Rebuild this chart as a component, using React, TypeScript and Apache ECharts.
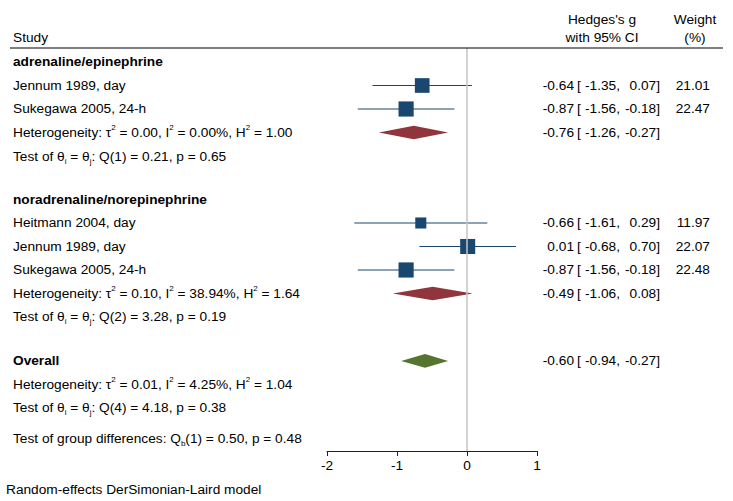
import React, { useEffect, useRef } from "react";
import * as echarts from "echarts";

// ---- data ----
const groupNames = ["adrenaline/epinephrine", "noradrenaline/norepinephrine"];
const studyNames = ["Jennum 1989, day", "Sukegawa 2005, 24-h", "Heitmann 2004, day", "Jennum 1989, day", "Sukegawa 2005, 24-h"];
const studyGroup = [0, 0, 1, 1, 1];
const studyEffect = [-0.64, -0.87, -0.66, 0.01, -0.87];
const studyLower = [-1.35, -1.56, -1.61, -0.68, -1.56];
const studyUpper = [0.07, -0.18, 0.29, 0.7, -0.18];
const studyWeight = [21.01, 22.47, 11.97, 22.07, 22.48];

const pooledEffect = [-0.76, -0.49];
const pooledLower = [-1.26, -1.06];
const pooledUpper = [-0.27, 0.08];
const groupTau2 = [0.0, 0.1];
const groupI2 = [0.0, 38.94];
const groupH2 = [1.0, 1.64];
const groupQdf = [1, 2];
const groupQ = [0.21, 3.28];
const groupP = [0.65, 0.19];

const overallEffect = [-0.6];
const overallLower = [-0.94];
const overallUpper = [-0.27];
const overallStats = { tau2: 0.01, i2: 4.25, h2: 1.04, qdf: 4, q: 4.18, p: 0.38 };
const groupDiff = { df: 1, qb: 0.5, p: 0.48 };

const xTicks = [-2, -1, 0, 1];

// ---- layout (row slots) ----
const blockStart = [0, 5.85];
const overallStart = 12.72;
const groupDiffPos = 16.02;
const Y_MIN = -0.5957;
const Y_MAX = 16.553;

const FONT = "'Liberation Sans', Arial, Helvetica, sans-serif";
const FS = 13.7;
const NAVY = "#1a476f";
const MAROON = "#90353b";
const GREEN = "#55752f";

const f2 = (v: number) => v.toFixed(2);

type Row = { pos: number; left: string; bold?: boolean; ci?: [number, number, number]; weight?: number };

function buildRows() {
  const rows: Row[] = [];
  const studyPos: number[] = [];
  const pooledPos: number[] = [];
  groupNames.forEach((g, gi) => {
    let p = blockStart[gi];
    rows.push({ pos: p, left: g, bold: true });
    studyNames.forEach((s, si) => {
      if (studyGroup[si] !== gi) return;
      p += 1;
      studyPos[si] = p;
      rows.push({ pos: p, left: s, ci: [studyEffect[si], studyLower[si], studyUpper[si]], weight: studyWeight[si] });
    });
    p += 1;
    pooledPos[gi] = p;
    rows.push({
      pos: p,
      left: `Heterogeneity: τ{sup|2} = ${f2(groupTau2[gi])}, I{sup|2} = ${f2(groupI2[gi])}%, H{sup|2} = ${f2(groupH2[gi])}`,
      ci: [pooledEffect[gi], pooledLower[gi], pooledUpper[gi]],
    });
    p += 1;
    rows.push({ pos: p, left: `Test of θ{sub|i} = θ{sub|j}: Q(${groupQdf[gi]}) = ${f2(groupQ[gi])}, p = ${f2(groupP[gi])}` });
  });
  rows.push({ pos: overallStart, left: "Overall", bold: true, ci: [overallEffect[0], overallLower[0], overallUpper[0]] });
  rows.push({
    pos: overallStart + 1,
    left: `Heterogeneity: τ{sup|2} = ${f2(overallStats.tau2)}, I{sup|2} = ${f2(overallStats.i2)}%, H{sup|2} = ${f2(overallStats.h2)}`,
  });
  rows.push({ pos: overallStart + 2, left: `Test of θ{sub|i} = θ{sub|j}: Q(${overallStats.qdf}) = ${f2(overallStats.q)}, p = ${f2(overallStats.p)}` });
  rows.push({ pos: groupDiffPos, left: `Test of group differences: Q{sub|b}(${groupDiff.df}) = ${f2(groupDiff.qb)}, p = ${f2(groupDiff.p)}` });
  return { rows, studyPos, pooledPos };
}

export default function App() {
  const ref = useRef<HTMLDivElement>(null);
  useEffect(() => {
    if (!ref.current) return;
    const chart = echarts.init(ref.current, undefined, { renderer: "svg" });
    const { rows, studyPos, pooledPos } = buildRows();

    const rich = {
      sup: { fontSize: 8, lineHeight: 6, verticalAlign: "top", fontFamily: FONT, fill: "#000", color: "#000" },
      sub: { fontSize: 8, lineHeight: 12, verticalAlign: "bottom", fontFamily: FONT, fill: "#000", color: "#000" },
    };

    const txt = (text: string, x: number, y: number, align: string, extra: any = {}) => ({
      type: "text",
      style: { text, x, y, align, verticalAlign: "middle", fontSize: FS, fontFamily: FONT, fill: "#000", ...extra },
    });

    const studyData = studyNames.map((_, i) => [studyEffect[i], studyLower[i], studyUpper[i], studyWeight[i], studyPos[i]]);
    const diamondData = [
      ...pooledEffect.map((e, i) => [e, pooledLower[i], pooledUpper[i], i, pooledPos[i]]),
      [overallEffect[0], overallLower[0], overallUpper[0], 2, overallStart],
    ];
    const diamondColors = [MAROON, MAROON, GREEN];

    const option: any = {
      animation: false,
      grid: { left: 327, right: 196, top: 48, bottom: 50, containLabel: false },
      xAxis: {
        type: "value",
        position: "bottom",
        min: xTicks[0],
        max: xTicks[xTicks.length - 1],
        interval: 1,
        axisLine: { show: true, onZero: false, lineStyle: { color: "#222", width: 1 } },
        axisTick: { show: true, length: 5, lineStyle: { color: "#222", width: 1 } },
        axisLabel: { color: "#000", fontSize: FS, fontFamily: FONT, margin: 7 },
        splitLine: { show: false },
      },
      yAxis: { type: "value", inverse: true, min: Y_MIN, max: Y_MAX, show: false, splitLine: { show: false } },
      graphic: [
        { type: "line", shape: { x1: 10, y1: 48, x2: 723, y2: 48 }, style: { stroke: "#000", lineWidth: 1.2 }, z: 10 },
        { type: "text", x: 13, y: 37, style: { text: "Study", fontSize: FS, fontFamily: FONT, fill: "#000", align: "left", verticalAlign: "middle" } },
        { type: "text", x: 602, y: 19, style: { text: "Hedges's g", fontSize: FS, fontFamily: FONT, fill: "#000", align: "center", verticalAlign: "middle" } },
        { type: "text", x: 602, y: 37, style: { text: "with 95% CI", fontSize: FS, fontFamily: FONT, fill: "#000", align: "center", verticalAlign: "middle" } },
        { type: "text", x: 695, y: 19, style: { text: "Weight", fontSize: FS, fontFamily: FONT, fill: "#000", align: "center", verticalAlign: "middle" } },
        { type: "text", x: 695, y: 37, style: { text: "(%)", fontSize: FS, fontFamily: FONT, fill: "#000", align: "center", verticalAlign: "middle" } },
        { type: "text", x: 6, y: 489, style: { text: "Random-effects DerSimonian-Laird model", fontSize: FS, fontFamily: FONT, fill: "#000", align: "left", verticalAlign: "middle" } },
      ],
      series: [
        {
          type: "custom",
          z: 1,
          data: [],
          renderItem: () => null,
          markLine: {
            silent: true,
            symbol: "none",
            label: { show: false },
            lineStyle: { color: "#c4c4c4", width: 1.5, type: "solid" },
            data: [{ xAxis: 0 }],
          },
        },
        {
          type: "custom",
          z: 3,
          clip: false,
          encode: { x: [0, 1, 2], y: 4 },
          data: studyData,
          renderItem: (_p: any, api: any) => {
            const y = api.value(4);
            const lo = api.coord([api.value(1), y]);
            const hi = api.coord([api.value(2), y]);
            const c = api.coord([api.value(0), y]);
            const s = 3.2 * Math.sqrt(api.value(3));
            return {
              type: "group",
              children: [
                { type: "line", shape: { x1: lo[0], y1: lo[1], x2: hi[0], y2: hi[1] }, style: { stroke: NAVY, lineWidth: 1.2 } },
                { type: "rect", shape: { x: c[0] - s / 2, y: c[1] - s / 2, width: s, height: s }, style: { fill: NAVY } },
              ],
            };
          },
        },
        {
          type: "custom",
          z: 3,
          clip: false,
          encode: { x: [0, 1, 2], y: 4 },
          data: diamondData,
          renderItem: (_p: any, api: any) => {
            const y = api.value(4);
            const lo = api.coord([api.value(1), y]);
            const hi = api.coord([api.value(2), y]);
            const c = api.coord([api.value(0), y]);
            const h = 6.8;
            return {
              type: "polygon",
              shape: { points: [[lo[0], c[1]], [c[0], c[1] - h], [hi[0], c[1]], [c[0], c[1] + h]] },
              style: { fill: diamondColors[api.value(3)] },
            };
          },
        },
        {
          type: "custom",
          z: 4,
          clip: false,
          encode: { x: 0, y: 1 },
          data: rows.map((r) => [0, r.pos]),
          renderItem: (p: any, api: any) => {
            const r = rows[p.dataIndex];
            const y = api.coord([0, r.pos])[1];
            const children: any[] = [
              {
                type: "text",
                style: {
                  text: r.left,
                  x: 13,
                  y,
                  align: "left",
                  verticalAlign: "middle",
                  fontSize: FS,
                  fontFamily: FONT,
                  fontWeight: r.bold ? "bold" : "normal",
                  fill: "#000",
                  lineHeight: 18,
                  rich,
                },
              },
            ];
            if (r.ci) {
              children.push(txt(f2(r.ci[0]), 574, y, "right"));
              children.push(txt("[", 577, y, "left"));
              children.push(txt(f2(r.ci[1]) + ",", 620, y, "right"));
              children.push(txt(f2(r.ci[2]) + "]", 660, y, "right"));
            }
            if (r.weight !== undefined) children.push(txt(f2(r.weight), 710, y, "right"));
            return { type: "group", children };
          },
        },
      ],
    };
    chart.setOption(option);
    return () => chart.dispose();
  }, []);
  return <div ref={ref} style={{ position: "absolute", left: 0, top: 0, width: 733, height: 501, background: "#fff" }} />;
}
